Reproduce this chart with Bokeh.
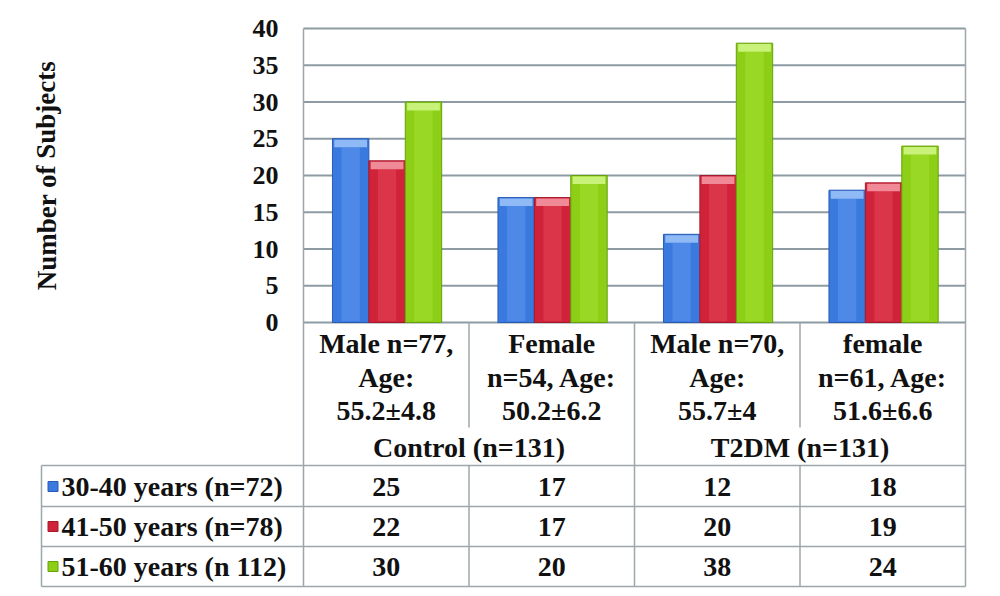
from bokeh.plotting import figure
from bokeh.models import Range1d, LinearAxis, FixedTicker
from bokeh.core.properties import value
from bokeh.embed import file_html
from bokeh.resources import INLINE

# ---- data ----
cat_labels = [["Male n=77,", "Age:", "55.2±4.8"],
              ["Female", "n=54, Age:", "50.2±6.2"],
              ["Male n=70,", "Age:", "55.7±4"],
              ["female", "n=61, Age:", "51.6±6.6"]]
groups = ["Control (n=131)", "T2DM (n=131)"]
series_names = ["30-40 years (n=72)", "41-50 years (n=78)", "51-60 years (n 112)"]
s_30_40 = [25, 17, 12, 18]
s_41_50 = [22, 17, 20, 19]
s_51_60 = [30, 20, 38, 24]
series = [s_30_40, s_41_50, s_51_60]
y_ticks = [0, 5, 10, 15, 20, 25, 30, 35, 40]
y_label = "Number of Subjects"

# ---- styles ----
FONT = value("Liberation Serif")
base_cols = ["#3a79de", "#d0233a", "#8ccf16"]
edge_cols = ["#2a5bb5", "#a51a2a", "#66a00c"]
hi_cols = ["#5e98f0", "#e24656", "#a4e234"]
cap_cols = ["#8fbaf6", "#f08a96", "#c9f27a"]
GRID = "#8d9ca3"
TLINE = "#9da7ab"
TXT = "#111111"
TSIZE = "28px"

W, H = 1000, 596
PX = 165.5          # pixels per category
X0 = 303            # page x of category 0 left edge
Y0 = 322            # page y of value 0
PY = 7.35           # pixels per unit


def xd(px):
    return (px - X0) / PX


def yd(py):
    return (Y0 - py) / PY


p = figure(width=W, height=H, output_backend="svg", toolbar_location=None,
           x_range=Range1d(xd(0), xd(W)), y_range=Range1d(yd(H), yd(0)),
           x_axis_location=None, y_axis_location=None,
           min_border=0, min_border_left=0, min_border_right=0,
           min_border_top=0, min_border_bottom=0)
p.grid.visible = False
p.outline_line_color = None

# y axis fixed at the chart's left edge
yax = LinearAxis(fixed_location=0, ticker=FixedTicker(ticks=y_ticks))
yax.axis_line_color = None
yax.major_tick_line_color = None
yax.minor_tick_line_color = None
yax.major_label_text_font = "Liberation Serif"
yax.major_label_text_font_style = "bold"
yax.major_label_text_font_size = "26px"
yax.major_label_text_color = TXT
yax.major_label_standoff = 19
p.add_layout(yax, "left")

# axis title
p.text(x=[xd(46)], y=[20], text=[y_label], angle=1.5708, text_font=FONT,
       text_font_style="bold", text_font_size="27px", text_align="center",
       text_baseline="middle", text_color=TXT)

# grid lines across the chart area
p.segment(x0=[0] * len(y_ticks), y0=y_ticks, x1=[4] * len(y_ticks), y1=y_ticks,
          line_color=GRID, line_width=2)

# bars
offsets = [-0.215, 0.005, 0.225]
bw = 0.22
cap_h = 1.15
for k, vals in enumerate(series):
    xs = [i + 0.5 + offsets[k] for i in range(len(vals))]
    p.vbar(x=xs, top=vals, bottom=0, width=bw, fill_color=base_cols[k],
           line_color=edge_cols[k], line_width=1)
    p.vbar(x=xs, top=[v - cap_h for v in vals], bottom=0.2, width=bw * 0.5,
           fill_color=hi_cols[k], line_color=None, fill_alpha=0.55)
    p.vbar(x=xs, top=[v - 0.12 for v in vals], bottom=[v - cap_h for v in vals],
           width=bw * 0.9, fill_color=cap_cols[k], line_color=None)

# table lines
hy = [yd(465), yd(506), yd(546), yd(586)]
p.segment(x0=[xd(41)] * 4, y0=hy, x1=[4] * 4, y1=hy,
          line_color=TLINE, line_width=1.5)
vx = [xd(41), 0, 1, 1, 2, 3, 3, 4]
vy0 = [yd(465), 40, 0, yd(465), 0, 0, yd(465), 40]
vy1 = [yd(586), yd(586), yd(427), yd(586), yd(586), yd(427), yd(586), yd(586)]
p.segment(x0=vx, y0=vy0, x1=vx, y1=vy1, line_color=TLINE, line_width=1.5)

# category labels
line_py = [343, 377, 410]
for li in range(3):
    p.text(x=[i + 0.5 for i in range(len(cat_labels))],
           y=[yd(line_py[li])] * len(cat_labels),
           text=[c[li] for c in cat_labels],
           text_font=FONT, text_font_style="bold", text_font_size=TSIZE,
           text_align="center", text_baseline="middle", text_color=TXT)
# group labels
p.text(x=[1, 3], y=[yd(447)] * 2, text=groups, text_font=FONT,
       text_font_style="bold", text_font_size=TSIZE, text_align="center",
       text_baseline="middle", text_color=TXT)

row_py = [486, 526, 566]
for k, vals in enumerate(series):
    p.scatter(x=[xd(52.5)], y=[yd(row_py[k])], marker="square", size=10,
              fill_color=base_cols[k], line_color=edge_cols[k])
    p.text(x=[xd(61)], y=[yd(row_py[k])], text=[series_names[k]], text_font=FONT,
           text_font_style="bold", text_font_size=TSIZE, text_align="left",
           text_baseline="middle", text_color=TXT)
    p.text(x=[i + 0.5 for i in range(len(vals))], y=[yd(row_py[k])] * len(vals),
           text=[str(v) for v in vals], text_font=FONT,
           text_font_style="bold", text_font_size=TSIZE, text_align="center",
           text_baseline="middle", text_color=TXT)

open("out.html", "w").write(file_html(p, INLINE))
